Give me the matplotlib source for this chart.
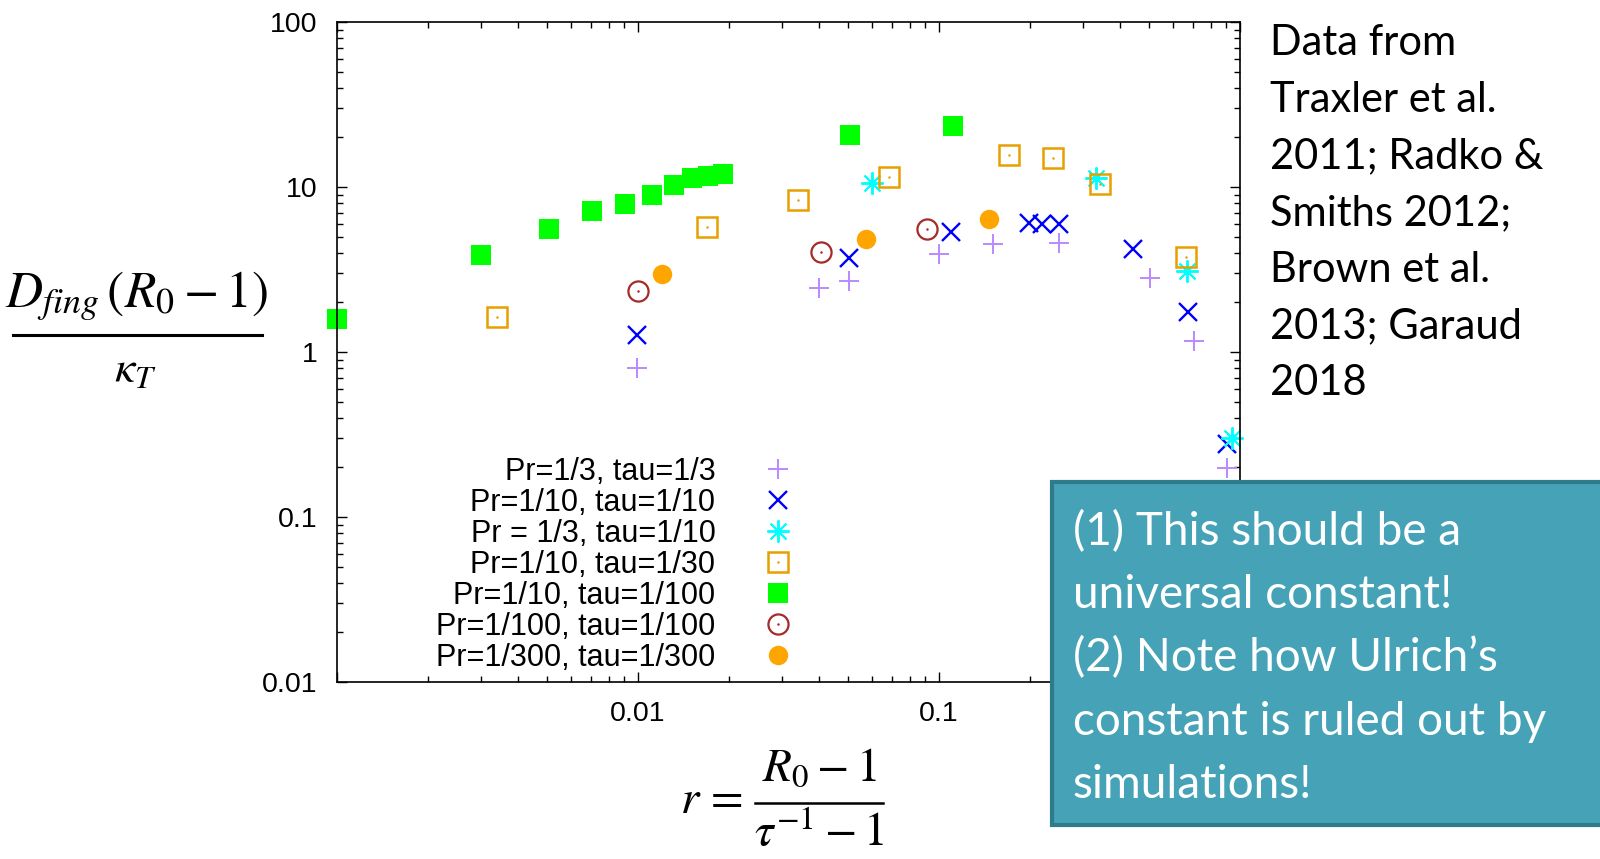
"""
Fingering-convection flux ratio vs reduced density ratio (log-log scatter).
"""

import matplotlib
matplotlib.use("Agg")
import matplotlib.pyplot as plt
from matplotlib.lines import Line2D
from matplotlib.patches import Rectangle
from matplotlib.legend_handler import HandlerTuple
from matplotlib.ticker import FixedLocator, FixedFormatter

plt.rcParams["mathtext.fontset"] = "stix"

# ── data ────────────────────────────────────────────────────────────────────
pr3_tau3_x = [0.0099, 0.0399, 0.0501, 0.100, 0.151, 0.251, 0.501, 0.705, 0.906]
pr3_tau3_y = [0.80, 2.44, 2.69, 3.93, 4.52, 4.58, 2.81, 1.17, 0.198]

pr10_tau10_x = [0.0099, 0.0501, 0.110, 0.1995, 0.220, 0.251, 0.440, 0.673, 0.906]
pr10_tau10_y = [1.27, 3.72, 5.33, 6.05, 6.0, 6.0, 4.21, 1.75, 0.277]

pr3_tau10_x = [0.0601, 0.332, 0.668, 0.94]
pr3_tau10_y = [10.6, 11.3, 3.10, 0.301]

pr10_tau30_x = [0.0034, 0.0170, 0.034, 0.0684, 0.1714, 0.240, 0.343, 0.664]
pr10_tau30_y = [1.63, 5.73, 8.34, 11.5, 15.6, 15.0, 10.4, 3.77]

pr10_tau100_x = [0.001, 0.00301, 0.00505, 0.00705, 0.00906, 0.0111,
                 0.01315, 0.01507, 0.01714, 0.0192, 0.0505, 0.111]
pr10_tau100_y = [1.58, 3.87, 5.56, 7.16, 7.89, 8.96,
                 10.3, 11.3, 11.7, 12.0, 20.6, 23.4]

pr100_tau100_x = [0.0100, 0.0404, 0.0912]
pr100_tau100_y = [2.34, 4.03, 5.56]

pr300_tau300_x = [0.0120, 0.057, 0.147]
pr300_tau300_y = [2.97, 4.84, 6.40]

labels = ["Pr=1/3, tau=1/3", "Pr=1/10, tau=1/10", "Pr = 1/3, tau=1/10",
          "Pr=1/10, tau=1/30", "Pr=1/10, tau=1/100", "Pr=1/100, tau=1/100",
          "Pr=1/300, tau=1/300"]

x_ticks = [0.001, 0.01, 0.1, 1]
x_tick_labels = ["", "0.01", "0.1", ""]
y_ticks = [0.01, 0.1, 1, 10, 100]
y_tick_labels = ["0.01", "0.1", "1", "10", "100"]

source_lines = ["Data from", "Traxler et al.", "2011; Radko &", "Smiths 2012;",
                "Brown et al.", "2013; Garaud", "2018"]
note_lines = ["(1) This should be a", "universal constant!",
              "(2) Note how Ulrich\u2019s", "constant is ruled out by",
              "simulations!"]

PURPLE = "#BB88FF"
BLUE   = "#0000FF"
CYAN   = "#00FFFF"
ORANGE = "#E8A000"
GREEN  = "#00FF00"
BROWN  = "#A52A2A"
ORANGE_FILL = "#FFA500"
BOX_FILL = "#46A3B7"
BOX_EDGE = "#2E7B8C"

W, H = 1600, 859
fig = plt.figure(figsize=(W / 100, H / 100), dpi=100)
ax = fig.add_axes([337 / W, 1 - 682 / H, (1240 - 337) / W, (682 - 22) / H])
ax.set_xscale("log")
ax.set_yscale("log")
ax.set_xlim(0.001, 1)
ax.set_ylim(0.01, 100)

common = dict(linestyle="none", clip_on=False)
h_plus, = ax.plot(pr3_tau3_x, pr3_tau3_y, marker="+", ms=15, mew=1.4,
                  color=PURPLE, **common)
h_x, = ax.plot(pr10_tau10_x, pr10_tau10_y, marker="x", ms=13, mew=1.7,
               color=BLUE, **common)
h_star, = ax.plot(pr3_tau10_x, pr3_tau10_y, marker=(8, 2, 0), ms=16, mew=1.4,
                  color=CYAN, **common)
h_sq, = ax.plot(pr10_tau30_x, pr10_tau30_y, marker="s", ms=14, mew=1.8,
                mfc="none", mec=ORANGE, **common)
h_sqdot, = ax.plot(pr10_tau30_x, pr10_tau30_y, marker="o", ms=1.8, mew=0,
                   color=ORANGE, **common)
h_fsq, = ax.plot(pr10_tau100_x, pr10_tau100_y, marker="s", ms=14.5, mew=0,
                 color=GREEN, **common)
h_circ, = ax.plot(pr100_tau100_x, pr100_tau100_y, marker="o", ms=14.5, mew=1.6,
                  mfc="none", mec=BROWN, **common)
h_cdot, = ax.plot(pr100_tau100_x, pr100_tau100_y, marker="o", ms=1.8, mew=0,
                  color=BROWN, **common)
h_fcirc, = ax.plot(pr300_tau300_x, pr300_tau300_y, marker="o", ms=14, mew=0,
                   color=ORANGE_FILL, **common)

# gnuplot-style axes: inward ticks on every side
for sp in ax.spines.values():
    sp.set_linewidth(1.2)
ax.tick_params(which="both", direction="in", top=True, right=True,
               width=1.0, labelsize=20.5, pad=14)
ax.tick_params(which="major", length=7)
ax.tick_params(which="minor", length=4)
ax.xaxis.set_major_locator(FixedLocator(x_ticks))
ax.xaxis.set_major_formatter(FixedFormatter(x_tick_labels))
ax.yaxis.set_major_locator(FixedLocator(y_ticks))
ax.yaxis.set_major_formatter(FixedFormatter(y_tick_labels))
for lab in ax.get_xticklabels() + ax.get_yticklabels():
    lab.set_family("Liberation Sans")

handles = [h_plus, h_x, h_star, (h_sq, h_sqdot), h_fsq, (h_circ, h_cdot), h_fcirc]
leg = ax.legend(handles, labels, markerfirst=False, frameon=False,
                loc="upper right", bbox_to_anchor=(801 / W, 1 - 457 / H),
                bbox_transform=fig.transFigure, borderpad=0, borderaxespad=0,
                handlelength=1.5, handletextpad=1.3, labelspacing=0.03,
                prop={"family": "Liberation Sans", "size": 22},
                handler_map={tuple: HandlerTuple(ndivide=1, pad=0)})

# ── axis labels as stacked fractions ────────────────────────────────────────
fig.text(137 / W, 1 - 307 / H, r"$D_{fing}\,(R_0-1)$", fontsize=37,
         ha="center", va="baseline")
fig.add_artist(Line2D([13 / W, 262 / W], [1 - 335 / H] * 2, color="black", lw=2.2))
fig.text(135 / W, 1 - 382 / H, r"$\kappa_{T}$", fontsize=33,
         ha="center", va="baseline")

fig.text(680 / W, 1 - 813 / H, r"$r\,=$", fontsize=34, ha="left", va="baseline")
fig.text(819 / W, 1 - 781 / H, r"$R_0-1$", fontsize=34, ha="center", va="baseline")
fig.add_artist(Line2D([755 / W, 883 / W], [1 - 803 / H] * 2, color="black", lw=1.8))
fig.text(819 / W, 1 - 846 / H, r"$\tau^{-1}-1$", fontsize=34, ha="center",
         va="baseline")

# ── annotations ─────────────────────────────────────────────────────────────
for i, line in enumerate(source_lines):
    fig.text(1270 / W, 1 - (55 + 56.7 * i) / H, line, fontsize=30, family="Lato",
             ha="left", va="baseline")

fig.add_artist(Rectangle((1052 / W, 1 - 825 / H), (1620 - 1052) / W, (825 - 482) / H,
                         transform=fig.transFigure, facecolor=BOX_FILL,
                         edgecolor=BOX_EDGE, lw=3, zorder=5))
for i, line in enumerate(note_lines):
    fig.text(1073 / W, 1 - (545 + 63.2 * i) / H, line, fontsize=33, family="Lato",
             color="white", ha="left", va="baseline", zorder=6)

fig.savefig("out.png", dpi=100)
